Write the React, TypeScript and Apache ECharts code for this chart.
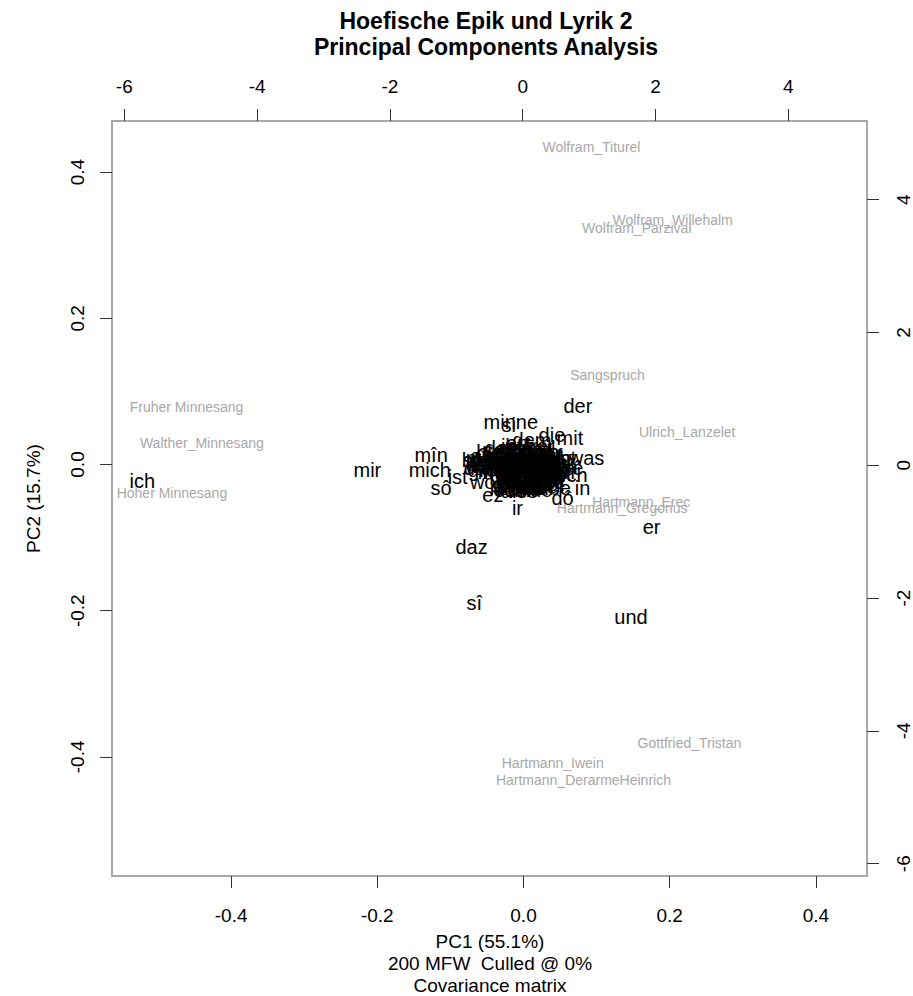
import React, { useEffect, useRef } from "react";
import * as echarts from "echarts";

// Texts (PC scores, bottom/left axes)
const sampleNames = [
  "Wolfram_Titurel",
  "Wolfram_Willehalm",
  "Wolfram_Parzival",
  "Sangspruch",
  "Ulrich_Lanzelet",
  "Hartmann_Erec",
  "Hartmann_Gregorius",
  "Gottfried_Tristan",
  "Hartmann_Iwein",
  "Hartmann_DerarmeHeinrich",
  "Fruher Minnesang",
  "Walther_Minnesang",
  "Hoher Minnesang",
];
const samplePC1 = [0.093, 0.204, 0.155, 0.115, 0.224, 0.161, 0.135, 0.227, 0.04, 0.082, -0.461, -0.44, -0.481];
const samplePC2 = [0.434, 0.335, 0.324, 0.122, 0.044, -0.051, -0.06, -0.381, -0.408, -0.432, 0.079, 0.029, -0.039];

// Words (loadings, top/right axes): dense central cluster first, outer words last
const wordNames = [
  "iht", "jâ", "her",
  "den", "des", "nu", "vil",
  "selbe", "diu",
  "hie", "dâ", "dar", "sus", "ab",
  "dirre", "ditz", "ze", "ûzer",
  "ein", "im", "sich", "man", "wart", "ûf",
  "mînen", "sînen", "iuch", "ander", "kam",
  "swaz", "swer", "wer", "waz", "wir", "hin",
  "sprach", "sach", "wolde", "solde", "mohte", "muoz",
  "uns", "dir", "dich", "wie", "wan", "doch", "von", "vür",
  "iemer", "niemen", "manec", "kein", "beide",
  "danne", "dan", "sint", "bin", "hân", "hete", "wære",
  "grôz", "liep", "leit", "wîp", "ritter", "künec", "vrô",
  "mê", "mac", "sol", "wil", "wirt", "vor", "durch",
  "gar", "rehte", "harte", "guot",
  "sîn", "mîne", "sîne", "ime",
  "muot", "ende", "sin", "êre",
  "iu", "nie", "ie", "bî", "einen", "sît",
  "tet", "wâren", "bist", "tôt",
  "gên", "herze", "lîp", "got",
  "swie", "welch", "eine",
  "nâch", "zuo", "ûz", "umbe",
  "oder", "unde",
  "ich", "mir", "mîn", "mich", "sô", "ist", "wol", "hât", "minne", "si",
  "der", "die", "mit", "an", "dem", "was", "niht", "noch", "ê", "ouch",
  "in", "dô", "ez", "alsô", "ir", "daz", "sî", "und", "er",
];
const wordPC1 = [
  -0.17, 0.05, 0.26,
  -0.32, -0.11, 0.14, 0.35,
  -0.23, 0.2,
  -0.5, -0.29, -0.05, 0.17, 0.38,
  -0.41, -0.17, 0.08, 0.29,
  -0.59, -0.35, -0.14, 0.08, 0.29, 0.47,
  -0.44, -0.23, 0.02, 0.23, 0.44,
  -0.56, -0.38, -0.2, -0.05, 0.14, 0.35,
  -0.35, -0.26, -0.11, 0.11, 0.26, 0.44,
  -0.62, -0.44, -0.29, -0.14, 0.02, 0.2, 0.35, 0.47,
  -0.47, -0.26, -0.05, 0.14, 0.32,
  -0.47, -0.35, -0.2, -0.05, 0.11, 0.26, 0.41,
  -0.53, -0.35, -0.17, -0.02, 0.17, 0.32, 0.47,
  -0.47, -0.32, -0.17, -0.02, 0.14, 0.29, 0.41,
  -0.2, 0.05, 0.26, 0.44,
  -0.2, 0.02, 0.23, 0.41,
  -0.17, 0.05, 0.23, 0.38,
  -0.26, -0.14, -0.02, 0.11, 0.26, 0.47,
  -0.2, 0.02, 0.23, 0.41,
  -0.2, 0.05, 0.26, 0.41,
  -0.17, 0.05, 0.26,
  -0.17, 0.02, 0.17, 0.35,
  -0.14, 0.11,
  -5.73, -2.34, -1.38, -1.4, -1.23, -0.98, -0.57, -0.71, -0.18, -0.21,
  0.83, 0.44, 0.71, -0.08, 0.14, 0.96, 0.56, 0.65, 0.83, 0.5,
  0.9, 0.6, -0.45, -0.05, -0.08, -0.77, -0.73, 1.63, 1.94,
];
const wordPC2 = [
  0.29, 0.29, 0.29,
  0.26, 0.26, 0.26, 0.26,
  0.23, 0.23,
  0.2, 0.2, 0.2, 0.2, 0.2,
  0.17, 0.17, 0.17, 0.17,
  0.14, 0.14, 0.14, 0.14, 0.14, 0.14,
  0.11, 0.11, 0.11, 0.11, 0.11,
  0.08, 0.08, 0.08, 0.08, 0.08, 0.08,
  0.05, 0.05, 0.05, 0.05, 0.05, 0.05,
  0.02, 0.02, 0.02, 0.02, 0.02, 0.02, 0.02, 0.02,
  -0.01, -0.01, -0.01, -0.01, -0.01,
  -0.04, -0.04, -0.04, -0.04, -0.04, -0.04, -0.04,
  -0.07, -0.07, -0.07, -0.07, -0.07, -0.07, -0.07,
  -0.1, -0.1, -0.1, -0.1, -0.1, -0.1, -0.1,
  -0.13, -0.13, -0.13, -0.13,
  -0.16, -0.16, -0.16, -0.16,
  -0.19, -0.19, -0.19, -0.19,
  -0.22, -0.22, -0.22, -0.22, -0.22, -0.22,
  -0.25, -0.25, -0.25, -0.25,
  -0.28, -0.28, -0.28, -0.28,
  -0.31, -0.31, -0.31,
  -0.34, -0.34, -0.34, -0.34,
  -0.37, -0.37,
  -0.24, -0.07, 0.16, -0.07, -0.34, -0.17, -0.25, 0.08, 0.65, 0.61,
  0.89, 0.45, 0.41, 0.33, 0.38, 0.11, 0.11, -0.15, -0.04, -0.02,
  -0.34, -0.5, -0.45, -0.39, -0.64, -1.23, -2.07, -2.28, -0.93,
];

const bottomTicks = [-0.4, -0.2, 0, 0.2, 0.4];
const leftTicks = [-0.4, -0.2, 0, 0.2, 0.4];
const topTicks = [-6, -4, -2, 0, 2, 4];
const rightTicks = [-6, -4, -2, 0, 2, 4];

const titleLines = ["Hoefische Epik und Lyrik 2", "Principal Components Analysis"];
const xNameLines = ["PC1 (55.1%)", "200 MFW  Culled @ 0%", "Covariance matrix"];
const yName = "PC2 (15.7%)";

const FONT = "'Liberation Sans', Arial, Helvetica, sans-serif";

export default function App() {
  const ref = useRef<HTMLDivElement>(null);
  useEffect(() => {
    if (!ref.current) return;
    const chart = echarts.init(ref.current, undefined, { renderer: "svg" });
    const tickCommon = (vals: number[]) => ({
      show: true,
      inside: false,
      length: 12,
      lineStyle: { color: "#333", width: 1 },
      customValues: vals,
    });
    const labelCommon = (vals: number[], margin: number, rotate: number, dec: number) => ({
      show: true,
      customValues: vals,
      margin,
      rotate,
      fontSize: 19,
      color: "#000",
      fontFamily: FONT,
      formatter: (v: number) => Number(v).toFixed(dec),
    });
    const axisBase = {
      type: "value",
      axisLine: { show: false, onZero: false },
      splitLine: { show: false },
    };
    const textSeries = (
      names: string[],
      xs: number[],
      ys: number[],
      axisIdx: number,
      size: number,
      color: string
    ) => ({
      type: "custom",
      coordinateSystem: "cartesian2d",
      xAxisIndex: axisIdx,
      yAxisIndex: axisIdx,
      silent: true,
      clip: false,
      data: names.map((_, i) => [xs[i], ys[i]]),
      renderItem: (params: any, api: any) => {
        const p = api.coord([api.value(0), api.value(1)]);
        return {
          type: "text",
          x: p[0],
          y: p[1],
          style: {
            text: names[params.dataIndex],
            fill: color,
            font: `${size}px ${FONT}`,
            textAlign: "center",
            textVerticalAlign: "middle",
            align: "center",
            verticalAlign: "middle",
          },
        };
      },
    });
    const gridLeft = 112;
    const gridTop = 121;
    const gridW = 756;
    const gridH = 755;
    const cx = gridLeft + gridW / 2;
    const cy = gridTop + gridH / 2;
    chart.setOption({
      animation: false,
      backgroundColor: "#fff",
      grid: {
        left: gridLeft,
        top: gridTop,
        width: gridW,
        height: gridH,
        show: true,
        borderColor: "#a8a8a8",
        borderWidth: 2,
        backgroundColor: "transparent",
      },
      xAxis: [
        {
          ...axisBase,
          position: "bottom",
          min: -0.563,
          max: 0.47,
          axisTick: tickCommon(bottomTicks),
          axisLabel: labelCommon(bottomTicks, 30, 0, 1),
        },
        {
          ...axisBase,
          position: "top",
          min: -6.185,
          max: 5.184,
          axisTick: tickCommon(topTicks),
          axisLabel: labelCommon(topTicks, 25, 0, 0),
        },
      ],
      yAxis: [
        {
          ...axisBase,
          position: "left",
          min: -0.563,
          max: 0.47,
          axisTick: tickCommon(leftTicks),
          axisLabel: labelCommon(leftTicks, 25, 90, 1),
        },
        {
          ...axisBase,
          position: "right",
          min: -6.185,
          max: 5.184,
          axisTick: tickCommon(rightTicks),
          axisLabel: labelCommon(rightTicks, 27, 90, 0),
        },
      ],
      series: [
        textSeries(sampleNames, samplePC1, samplePC2, 0, 14, "#a8a8a8"),
        textSeries(wordNames, wordPC1, wordPC2, 1, 20, "#000000"),
      ],
      graphic: [
        ...titleLines.map((t, i) => ({
          type: "text",
          x: cx - 4,
          y: 21 + i * 26,
          style: {
            text: t,
            textAlign: "center",
            textVerticalAlign: "middle",
            font: `bold 23px ${FONT}`,
            fill: "#000",
          },
        })),
        ...xNameLines.map((t, i) => ({
          type: "text",
          x: cx,
          y: 941 + i * 22,
          style: {
            text: t,
            textAlign: "center",
            textVerticalAlign: "middle",
            font: `19px ${FONT}`,
            fill: "#000",
          },
        })),
        {
          type: "text",
          x: 33,
          y: cy,
          rotation: Math.PI / 2,
          style: {
            text: yName,
            textAlign: "center",
            textVerticalAlign: "middle",
            font: `19px ${FONT}`,
            fill: "#000",
          },
        },
      ],
    });
    return () => chart.dispose();
  }, []);
  return (
    <div
      ref={ref}
      style={{ position: "absolute", left: 0, top: 0, width: 913, height: 996, background: "#fff" }}
    />
  );
}
